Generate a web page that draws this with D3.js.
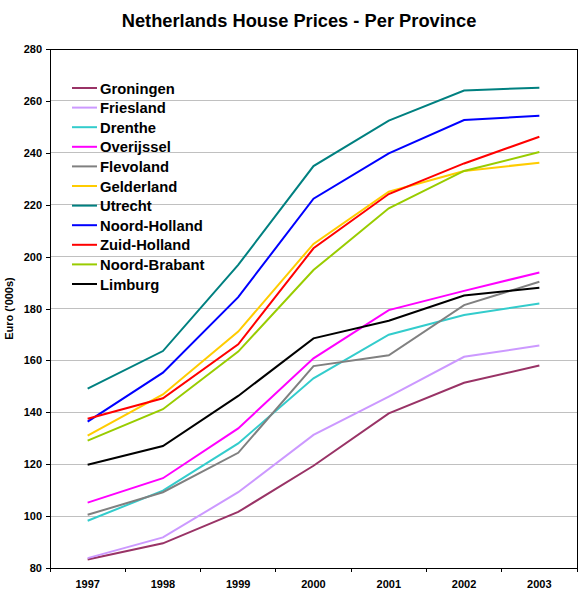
<!DOCTYPE html>
<html>
<head>
<meta charset="utf-8">
<script src="https://cdn.jsdelivr.net/npm/d3@7"></script>
<style>
  body { margin: 0; background: #fff; }
  svg { display: block; font-family: "Liberation Sans", Arial, sans-serif; }
</style>
</head>
<body>
<svg id="chart" width="582" height="600"></svg>
<script>
const years = ['1997', '1998', '1999', '2000', '2001', '2002', '2003'];
const yTicks = [80, 100, 120, 140, 160, 180, 200, 220, 240, 260, 280];

const provinces = ['Groningen', 'Friesland', 'Drenthe', 'Overijssel', 'Flevoland', 'Gelderland',
  'Utrecht', 'Noord-Holland', 'Zuid-Holland', 'Noord-Brabant', 'Limburg'];
const colors = ['#993366', '#cc99ff', '#33cccc', '#ff00ff', '#808080', '#ffcc00',
  '#008080', '#0000ff', '#ff0000', '#99cc00', '#000000'];

// prices in thousands of euro, 1997..2003
const groningen = [83.3, 89.5, 101.6, 119.4, 139.6, 151.4, 158.0];
const friesland = [83.8, 91.8, 109.2, 131.3, 146.0, 161.4, 165.7];
const drenthe = [98.2, 109.8, 128.0, 153.1, 169.9, 177.5, 181.9];
const overijssel = [105.2, 114.6, 133.8, 160.8, 179.4, 186.8, 193.9];
const flevoland = [100.5, 109.2, 124.4, 157.8, 162.0, 181.3, 190.3];
const gelderland = [131.0, 146.9, 171.1, 204.9, 225.0, 233.0, 236.2];
const utrecht = [149.1, 163.6, 196.8, 234.9, 252.4, 264.0, 265.1];
const noordHolland = [136.4, 155.3, 184.4, 222.3, 239.8, 252.6, 254.3];
const zuidHolland = [137.5, 145.4, 166.2, 203.2, 224.1, 235.9, 246.2];
const noordBrabant = [129.1, 141.2, 163.4, 194.8, 218.6, 233.0, 240.3];
const limburg = [119.8, 127.0, 146.3, 168.5, 175.3, 185.0, 188.0];

const seriesValues = [groningen, friesland, drenthe, overijssel, flevoland, gelderland,
  utrecht, noordHolland, zuidHolland, noordBrabant, limburg];

const margin = { top: 49, right: 5, bottom: 32, left: 50 };
const width = 582, height = 600;

const svg = d3.select('#chart');

const x = d3.scaleBand().domain(years).range([margin.left, width - margin.right]);
const y = d3.scaleLinear().domain([80, 280]).range([height - margin.bottom, margin.top]);

// title
svg.append('text')
  .attr('x', 299).attr('y', 27)
  .attr('text-anchor', 'middle')
  .attr('font-size', 18.3).attr('font-weight', 'bold')
  .text('Netherlands House Prices - Per Province');

// grid
svg.append('g')
  .selectAll('line')
  .data(yTicks.filter(t => t > 80 && t < 280))
  .join('line')
  .attr('x1', margin.left).attr('x2', width - margin.right)
  .attr('y1', d => y(d)).attr('y2', d => y(d))
  .attr('stroke', '#c0c0c0').attr('stroke-width', 1)
  .attr('shape-rendering', 'crispEdges');

// frame
svg.append('rect')
  .attr('x', margin.left).attr('y', margin.top)
  .attr('width', width - margin.right - margin.left)
  .attr('height', height - margin.bottom - margin.top)
  .attr('fill', 'none').attr('stroke', '#000').attr('stroke-width', 1)
  .attr('shape-rendering', 'crispEdges');

// y axis
const yAxis = d3.axisLeft(y).tickValues(yTicks).tickSize(4).tickPadding(4);
const gy = svg.append('g')
  .attr('transform', `translate(${margin.left},0)`)
  .call(yAxis);
gy.select('.domain').remove();
gy.selectAll('line').attr('shape-rendering', 'crispEdges');
gy.selectAll('text').attr('font-size', 11).attr('font-weight', 'bold')
  .attr('font-family', '"Liberation Sans", Arial, sans-serif');

// x axis: ticks between categories
const xTickPos = d3.range(years.length + 1).map(i => margin.left + i * x.bandwidth());
svg.append('g')
  .selectAll('line')
  .data(xTickPos)
  .join('line')
  .attr('x1', d => d).attr('x2', d => d)
  .attr('y1', height - margin.bottom).attr('y2', height - margin.bottom + 4)
  .attr('stroke', '#000')
  .attr('shape-rendering', 'crispEdges');

svg.append('g')
  .selectAll('text')
  .data(years)
  .join('text')
  .attr('x', d => x(d) + x.bandwidth() / 2)
  .attr('y', height - margin.bottom + 20)
  .attr('text-anchor', 'middle')
  .attr('font-size', 11).attr('font-weight', 'bold')
  .text(d => d);

// y label
svg.append('text')
  .attr('transform', `translate(13,${(margin.top + height - margin.bottom) / 2}) rotate(-90)`)
  .attr('text-anchor', 'middle')
  .attr('font-size', 11).attr('font-weight', 'bold')
  .text("Euro ('000s)");

// lines
const line = d3.line()
  .x((d, i) => x(years[i]) + x.bandwidth() / 2)
  .y(d => y(d));

svg.append('g')
  .selectAll('path')
  .data(seriesValues)
  .join('path')
  .attr('d', line)
  .attr('fill', 'none')
  .attr('stroke', (d, i) => colors[i])
  .attr('stroke-width', 2);

// legend
const legend = svg.append('g').attr('transform', 'translate(72,88)');
const item = legend.selectAll('g')
  .data(provinces)
  .join('g')
  .attr('transform', (d, i) => `translate(0,${i * 19.6})`);
item.append('line')
  .attr('x1', 0).attr('x2', 25)
  .attr('stroke', (d, i) => colors[i]).attr('stroke-width', 2);
item.append('text')
  .attr('x', 28).attr('y', 5.5)
  .attr('font-size', 14.8).attr('font-weight', 'bold')
  .text(d => d);
</script>
</body>
</html>
